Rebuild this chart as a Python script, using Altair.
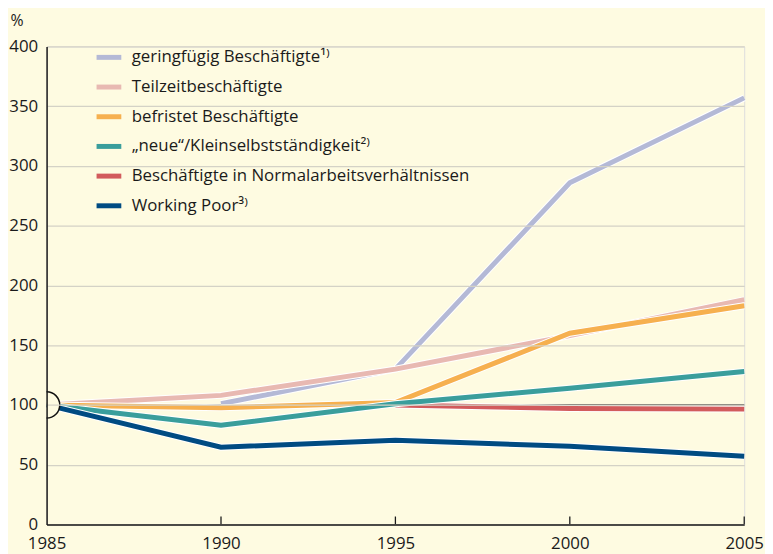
import altair as alt
import pandas as pd

years = [1985, 1990, 1995, 2000, 2005]

series_names = [
    "geringfügig Beschäftigte¹⁾",
    "Teilzeitbeschäftigte",
    "befristet Beschäftigte",
    "„neue“/Kleinselbstständigkeit²⁾",
    "Beschäftigte in Normalarbeitsverhältnissen",
    "Working Poor³⁾",
]
colors = ["#b4b9d6", "#e8b9b2", "#f6b04f", "#3a9e9c", "#d25b5c", "#004b82"]

geringfuegig = [None, 101, 130, 286, 357]
teilzeit = [100, 108, 130, 158, 188]
befristet = [100, 97.7, 102, 160, 183]
neue = [100, 83, 101, 114, 128]
normal = [None, None, 100, 97, 96.5]
working_poor = [100, 64.6, 70.4, 65.4, 57]

values = [geringfuegig, teilzeit, befristet, neue, normal, working_poor]

rows = []
for name, vals in zip(series_names, values):
    for y, v in zip(years, vals):
        if v is not None:
            rows.append({"year": y, "value": v, "series": name})
df = pd.DataFrame(rows)

W, H = 705, 483
BG = "#fefbe1"
FONT = "Open Sans"

x_scale = alt.Scale(domain=[1985, 2005], nice=False, zero=False)
y_scale = alt.Scale(domain=[0, 400], nice=False)

x_axis = alt.X(
    "year:Q", scale=x_scale, title=None,
    axis=alt.Axis(values=years, format="d", title=None, tickSize=0, grid=False,
                  labelFontSize=17, labelPadding=11, labelColor="#1a1a1a",
                  labelFont=FONT, domainColor="#1a1a1a", domainWidth=1.5,
                  zindex=1, labelFlush=False),
)
y_axis = alt.Y(
    "value:Q", scale=y_scale, title="%",
    axis=alt.Axis(values=list(range(0, 401, 50)), title="%", titleAngle=0,
                  titleX=-37, titleY=-34, titleAlign="left", titleBaseline="top",
                  titleFontSize=16, titleFontWeight="normal", titleColor="#1a1a1a",
                  titleFont=FONT,
                  tickSize=0, labelPadding=9, labelFontSize=17, labelColor="#1a1a1a",
                  labelFont=FONT,
                  grid=True, gridColor="#d4d2c6", gridWidth=1.3,
                  domainColor="#1a1a1a", domainWidth=1.5, zindex=1),
)
x_plain = alt.X("year:Q", scale=x_scale, title=None)
y_plain = alt.Y("value:Q", scale=y_scale, title="%")

base = alt.Chart(df)

# reference line at 100
ref = alt.Chart(pd.DataFrame({"year": [1985], "year2": [2005], "value": [100]})).mark_rule(
    color="#111111", strokeWidth=1.2
).encode(x=x_plain, x2="year2:Q", y=y_plain)

layers = [base.mark_line(opacity=0).encode(x=x_axis, y=y_axis), ref]

draw_order = [0, 1, 2, 4, 3, 5]
color_scale = alt.Scale(domain=series_names, range=colors)
legend = alt.Legend(
    title=None, orient="none", legendX=48, legendY=-4,
    symbolType="stroke", symbolStrokeWidth=5, symbolSize=625,
    labelFontSize=17, labelColor="#1a1a1a", labelOffset=8, labelFont=FONT,
    rowPadding=5, padding=0, labelLimit=500,
)
for i, idx in enumerate(draw_order):
    name = series_names[idx]
    sub = base.transform_filter(alt.datum.series == name)
    halo = sub.mark_line(color="white", strokeWidth=7, strokeJoin="miter").encode(
        x=x_plain, y=y_plain,
    )
    line = sub.mark_line(strokeWidth=5, strokeJoin="miter").encode(
        x=x_plain, y=y_plain,
        color=alt.Color("series:N", scale=color_scale,
                        legend=legend if i == 0 else None),
    )
    layers += [halo, line]

# start marker: semicircle at 1985 / 100
circle = alt.Chart(pd.DataFrame({"year": [1985], "value": [100]})).mark_point(
    shape="circle", size=707, filled=True, fill=BG, stroke="#111111",
    strokeWidth=1.5, opacity=1, clip=True
).encode(x=x_plain, y=y_plain)

# x-axis ticks pointing upward
ticks = alt.Chart(pd.DataFrame({"year": years[1:]})).mark_rule(
    color="#1a1a1a", strokeWidth=1.3
).encode(
    x=x_plain,
    y=alt.value(H),
    y2=alt.value(H - 8),
)

layers += [circle, ticks]

chart = alt.layer(*layers).properties(
    width=W, height=H,
    background=BG,
    padding={"left": 39, "top": 36, "right": 21, "bottom": 27},
    autosize=alt.AutoSizeParams(type="none"),
).configure_view(stroke=None).configure(
    font=FONT
)

chart.save("out.html", embed_options={"renderer": "svg", "actions": False})
